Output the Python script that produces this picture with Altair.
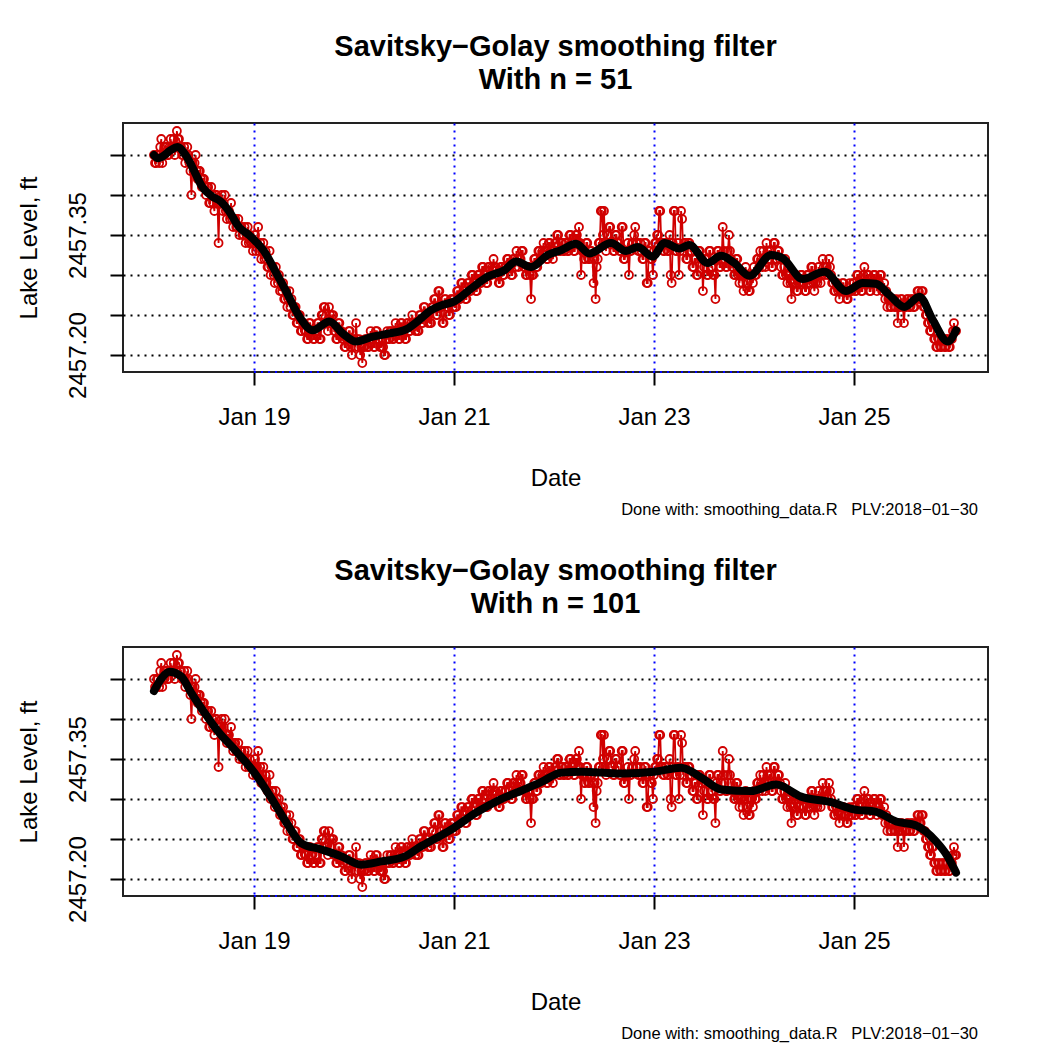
import altair as alt
import pandas as pd

FONT = "Liberation Sans"
START = pd.Timestamp("2018-01-18 00:00:00")

# Raw lake-level readings every 15 minutes, in hundredths of a foot above 2457.00 ft
# (one row = 3 hours)
raw_jan18 = [45, 44, 44, 45, 45, 44, 46, 47, 44, 45, 45, 46,
             46, 45, 45, 46, 47, 46, 46, 47, 45, 46, 48, 47,
             47, 46, 46, 45, 45, 46, 44, 45, 46, 45, 44, 43,
             40, 44, 43, 44, 45, 43, 42, 43, 43, 42, 41, 42,
             42, 41, 40, 41, 41, 39, 39, 41, 40, 39, 38, 40,
             40, 39, 34, 39, 39, 40, 38, 39, 40, 38, 37, 38,
             38, 37, 39, 37, 36, 37, 37, 36, 36, 37, 35, 36,
             36, 35, 35, 36, 34, 35, 36, 34, 35, 34, 34, 33]
raw_jan19 = [34, 35, 33, 34, 36, 33, 34, 32, 33, 34, 32, 33,
             32, 31, 31, 33, 30, 31, 31, 30, 29, 31, 30, 29,
             30, 28, 29, 28, 29, 27, 27, 28, 26, 27, 28, 26,
             27, 25, 25, 26, 26, 24, 24, 25, 25, 23, 23, 24,
             24, 23, 23, 22, 22, 24, 24, 23, 23, 22, 22, 23,
             23, 24, 24, 22, 22, 25, 25, 26, 26, 24, 24, 23,
             26, 25, 24, 25, 25, 23, 23, 22, 22, 24, 24, 23,
             23, 22, 22, 21, 21, 22, 22, 23, 23, 21, 20, 22]
raw_jan20 = [22, 21, 24, 22, 21, 22, 20, 21, 19, 21, 21, 22,
             22, 21, 21, 22, 23, 22, 22, 21, 21, 23, 23, 22,
             22, 21, 21, 22, 21, 20, 20, 22, 23, 22, 22, 23,
             23, 22, 22, 23, 24, 23, 23, 22, 22, 24, 24, 23,
             23, 22, 22, 24, 24, 23, 23, 24, 25, 24, 24, 23,
             24, 23, 23, 25, 25, 24, 24, 26, 26, 25, 25, 24,
             25, 24, 24, 26, 26, 27, 27, 25, 25, 28, 28, 26,
             26, 24, 24, 27, 27, 26, 26, 25, 25, 27, 27, 26]
raw_jan21 = [27, 26, 26, 28, 28, 27, 27, 29, 29, 28, 28, 27,
             27, 29, 29, 28, 28, 30, 30, 29, 29, 28, 28, 30,
             30, 29, 29, 31, 31, 30, 30, 29, 29, 31, 31, 30,
             30, 31, 32, 31, 31, 30, 30, 29, 29, 31, 31, 30,
             30, 31, 31, 32, 32, 31, 31, 30, 30, 32, 32, 31,
             33, 32, 31, 32, 32, 33, 33, 31, 31, 30, 30, 31,
             31, 30, 27, 30, 30, 32, 32, 31, 31, 33, 33, 32,
             32, 33, 34, 33, 33, 32, 32, 34, 34, 33, 33, 32]
raw_jan22 = [33, 34, 34, 35, 35, 33, 33, 34, 34, 33, 33, 34,
             34, 33, 33, 35, 35, 34, 34, 33, 33, 35, 35, 34,
             36, 34, 30, 33, 33, 32, 32, 34, 34, 32, 32, 33,
             33, 32, 29, 32, 27, 31, 32, 34, 34, 38, 38, 35,
             38, 34, 33, 35, 35, 36, 36, 34, 34, 33, 33, 35,
             35, 34, 34, 33, 33, 36, 36, 32, 32, 33, 33, 34,
             30, 33, 33, 34, 34, 35, 36, 34, 34, 33, 33, 34,
             33, 32, 32, 34, 34, 29, 29, 33, 33, 32, 32, 30]
raw_jan23 = [33, 34, 34, 35, 35, 38, 38, 34, 34, 33, 33, 34,
             34, 33, 33, 35, 30, 29, 34, 38, 38, 33, 33, 34,
             30, 33, 38, 37, 33, 34, 34, 32, 32, 34, 34, 33,
             33, 31, 31, 32, 32, 30, 30, 33, 33, 32, 32, 28,
             31, 32, 32, 30, 30, 33, 33, 31, 31, 30, 30, 27,
             32, 33, 33, 31, 31, 32, 36, 33, 32, 31, 31, 33,
             35, 33, 32, 31, 31, 30, 30, 32, 32, 30, 29, 30,
             30, 29, 28, 30, 31, 30, 29, 28, 28, 30, 30, 29]
raw_jan24 = [31, 30, 30, 32, 32, 31, 33, 32, 31, 33, 32, 31,
             34, 33, 32, 33, 33, 31, 31, 34, 34, 32, 32, 33,
             33, 32, 31, 30, 30, 31, 32, 30, 29, 30, 30, 29,
             27, 29, 29, 30, 30, 28, 28, 29, 29, 30, 30, 29,
             29, 28, 28, 30, 30, 29, 29, 31, 31, 29, 28, 29,
             30, 29, 31, 30, 29, 30, 32, 31, 30, 31, 31, 30,
             32, 31, 30, 29, 29, 28, 28, 29, 29, 28, 27, 28,
             28, 29, 29, 28, 28, 27, 27, 28, 29, 28, 28, 29]
raw_jan25 = [29, 28, 28, 30, 30, 29, 29, 28, 28, 30, 31, 29,
             29, 30, 30, 28, 28, 29, 29, 30, 30, 29, 28, 29,
             29, 30, 30, 28, 28, 29, 27, 28, 26, 27, 27, 26,
             26, 27, 27, 26, 26, 27, 24, 26, 26, 27, 27, 26,
             24, 26, 26, 27, 27, 26, 26, 27, 27, 26, 26, 27,
             27, 28, 28, 27, 27, 28, 28, 26, 26, 25, 25, 24,
             24, 23, 23, 24, 24, 22, 22, 21, 21, 22, 22, 21,
             21, 22, 22, 21, 21, 22, 22, 21, 21, 22, 22, 23,
             24, 23, 23]

# Savitzky-Golay smoothed curves (hours after Jan 18 00:00, hundredths above 2457.00)
smooth51_hours = [0, 1, 2, 4, 5.6, 7.6, 9.2, 11.6, 14, 16, 18, 20.4, 22.8, 24.4, 26.4,
                  29.2, 31.6, 34.9, 38.1, 42.1, 45.3, 48.5, 52.5, 56.5, 60.5, 63.7, 66.5,
                  68.9, 72.1, 76.1, 80.1, 84.1, 86.9, 90.5, 94.5, 97.7, 101.3, 104.5, 109.7,
                  113.3, 116.1, 119.7, 122.5, 126.1, 128.5, 132.9, 136.1, 139.3, 142.9,
                  148.1, 150.9, 155.7, 160.9, 166.1, 170.1, 173.3, 176.5, 180.1, 183.7,
                  186.9, 190.5, 192.5]
smooth51_vals = [45, 44.6, 44.8, 45.6, 46, 45, 43.5, 41, 39.8, 39.2, 38, 36, 35, 34.2, 33,
                 30.4, 28.1, 24.8, 23.1, 24.2, 22.7, 21.7, 22.3, 22.7, 23.2, 24.4, 25.6,
                 26.2, 26.7, 28.3, 29.8, 30.6, 31.7, 31, 32.5, 33.1, 33.9, 32.7, 34,
                 33, 33.5, 32.3, 34, 33.3, 33.75, 31.5, 32.4, 31.5, 29.9,
                 32.5, 32.1, 29.5, 30.4, 28, 29, 28.9, 27.5, 26, 27.3,
                 24.4, 21.7, 23.1]
smooth101_hours = [0, 2, 3.7, 6.5, 8.9, 12.1, 15.3, 19.3, 24.1, 28.9, 32.1, 35.3, 40.1,
                   44.9, 49.7, 54.5, 60.1, 64.1, 68, 72, 77, 83.3, 88, 92.9, 97.7, 102.5,
                   107.3, 113, 120, 126.5, 131.3, 136.1, 143.3, 149.3, 155.3, 162.5, 168,
                   173.3, 178.1, 182.9, 187.7, 190.5, 192.5]
smooth101_vals = [43.5, 45.2, 45.9, 45.35, 43.3, 40.8, 38.5, 36.2, 33.3, 29.5, 26.8, 24.5,
                  23.7, 22.85, 21.8, 22.2, 22.8, 24.1, 25.2, 26.4, 28.2, 30.0, 31.0, 32.1,
                  33.3, 33.4, 33.3, 33.2, 33.4, 33.9, 32.7, 31.2, 31.0, 31.8, 30.3, 29.6,
                  28.7, 28.4, 27.2, 26.7, 24.7, 22.8, 20.8]

y_ticks = [2457.20, 2457.25, 2457.30, 2457.35, 2457.40, 2457.45]
x_tick_days = [19, 21, 23, 25]
NB = "\u00a0"
FOOTNOTE = f"Done with: smoothing_data.R{NB}{NB}{NB}PLV:2018\u221201\u221230"
TITLE1 = "Savitsky\u2212Golay smoothing filter"

raw_all = raw_jan18 + raw_jan19 + raw_jan20 + raw_jan21 + raw_jan22 + raw_jan23 + raw_jan24 + raw_jan25
raw_df = pd.DataFrame({
    "time": pd.date_range(START, periods=len(raw_all), freq="15min").strftime("%Y-%m-%dT%H:%M:%S"),
    "level": [2457 + v / 100 for v in raw_all],
})


def smooth_df(hours, vals):
    return pd.DataFrame({
        "time": [(START + pd.Timedelta(hours=h)).strftime("%Y-%m-%dT%H:%M:%S") for h in hours],
        "level": [2457 + v / 100 for v in vals],
    })


W, H = 865, 249
RED = "#D00000"

x_scale = alt.Scale(domain=[alt.DateTime(year=2018, month=1, date=17, hours=16, minutes=34),
                            alt.DateTime(year=2018, month=1, date=26, hours=8, minutes=10)],
                    nice=False)
y_scale = alt.Scale(domain=[2457.1788, 2457.490], nice=False, zero=False)

x_axis = alt.Axis(
    values=[alt.DateTime(year=2018, month=1, date=d) for d in x_tick_days],
    format="%b %d", title="Date", labelFontSize=24, titleFontSize=24,
    titleFontWeight="normal", labelFont=FONT, titleFont=FONT,
    labelColor="black", titleColor="black", tickColor="black", tickSize=13,
    tickWidth=2, domain=False, grid=True, gridColor="#0000FF", gridDash=[2, 5],
    gridWidth=2, gridOpacity=1, labelPadding=20, titlePadding=37, labelOverlap=False,
)
y_axis = alt.Axis(
    values=y_ticks,
    labelExpr="(abs(datum.value-2457.20)<0.001 || abs(datum.value-2457.35)<0.001) ? format(datum.value,'.2f') : ''",
    title="Lake Level, ft", labelAngle=270, labelAlign="center", labelBaseline="bottom",
    labelFontSize=24, titleFontSize=24, titleFontWeight="normal", labelFont=FONT,
    titleFont=FONT, labelColor="black", titleColor="black", tickColor="black",
    tickSize=13, tickWidth=2, domain=False, grid=True, gridColor="black",
    gridDash=[2, 5], gridWidth=2, gridOpacity=1, labelPadding=20, titlePadding=25,
    labelOverlap=False,
)


def panel(sdf, n):
    base_x = alt.X("time:T", scale=x_scale, axis=x_axis)
    base_y = alt.Y("level:Q", scale=y_scale, axis=y_axis)
    red_line = alt.Chart(raw_df).mark_line(color=RED, strokeWidth=1.8).encode(x=base_x, y=base_y)
    red_pts = alt.Chart(raw_df).mark_point(shape="circle", filled=False, color=RED, size=64,
                                           strokeWidth=1.8, opacity=1).encode(x=base_x, y=base_y)
    smooth = alt.Chart(sdf).mark_line(color="black", strokeWidth=8, strokeCap="round",
                                      strokeJoin="round", interpolate="monotone").encode(x=base_x, y=base_y)
    bottom_df = pd.DataFrame({"a": [f"2018-01-{x_tick_days[0]}T00:00:00"],
                              "b": [f"2018-01-{x_tick_days[-1]}T00:00:00"]})
    bottom_rule = alt.Chart(bottom_df).mark_rule(color="#0000FF", strokeWidth=2, strokeDash=[2, 5]).encode(
        x=alt.X("a:T", scale=x_scale, axis=x_axis), x2="b:T", y=alt.value(H))
    note = alt.Chart(pd.DataFrame({"note": [FOOTNOTE]})).mark_text(
        align="right", baseline="middle", fontSize=16.5, font=FONT, color="black"
    ).encode(text="note:N", x=alt.value(W - 10), y=alt.value(387))
    return alt.layer(red_line, red_pts, smooth, bottom_rule, note).properties(
        width=W, height=H,
        title=alt.TitleParams(text=[TITLE1, f"With n = {n}"], fontSize=29, fontWeight="bold",
                              font=FONT, color="black", lineHeight=33, anchor="middle",
                              frame="group", baseline="bottom", offset=-1),
    )


p1 = panel(smooth_df(smooth51_hours, smooth51_vals), 51)
p2 = panel(smooth_df(smooth101_hours, smooth101_vals), 101)

chart = alt.vconcat(p1, p2, spacing=275, bounds="flush").properties(
    padding={"left": 7, "top": 24, "right": 5, "bottom": 5}
).configure(font=FONT).configure_view(stroke="#222222", strokeWidth=2)

chart.save("out.html", embed_options={"renderer": "svg", "actions": False})
